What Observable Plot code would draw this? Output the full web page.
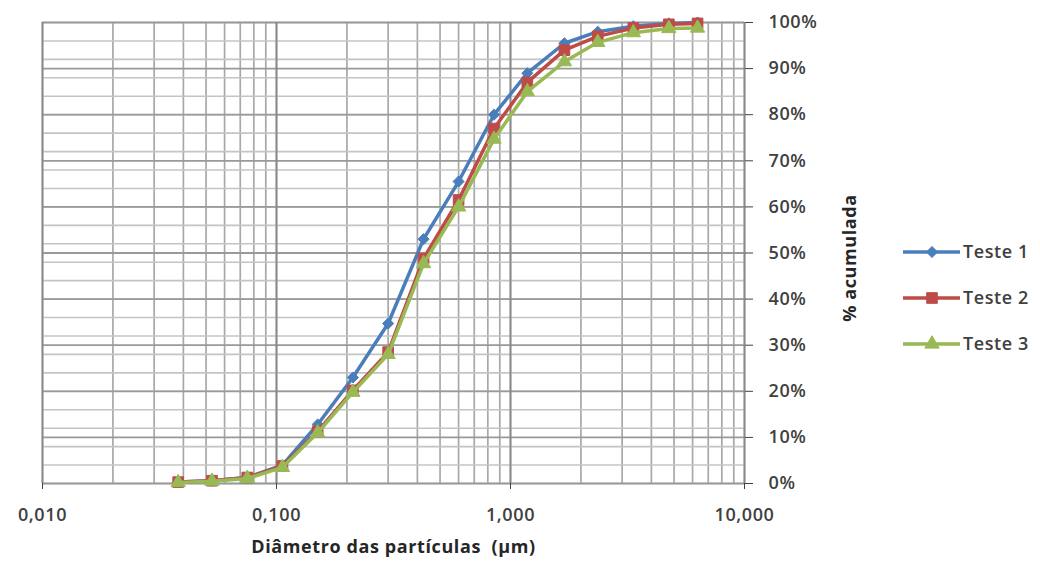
<!DOCTYPE html>
<html>
<head>
<meta charset="utf-8">
<script src="https://cdn.jsdelivr.net/npm/d3@7"></script>
<script src="https://cdn.jsdelivr.net/npm/@observablehq/plot@0.6"></script>
<style>
  body { margin: 0; background: #fff; }
  #wrap { position: relative; width: 1040px; height: 568px; }
  #wrap svg text { letter-spacing: 0.6px; }
  #legend { position: absolute; left: 0; top: 0; pointer-events: none; }
</style>
</head>
<body>
<div id="wrap"></div>
<script>
// Particle diameters (sieve sizes)
const diam = [0.038, 0.053, 0.075, 0.106, 0.15, 0.212, 0.3, 0.425, 0.6, 0.85, 1.18, 1.7, 2.36, 3.35, 4.75, 6.3];
// Cumulative % per test
const teste1 = [0.3, 0.6, 1.3, 4.0, 12.8, 23.0, 34.7, 53.0, 65.5, 80.0, 89.0, 95.5, 98.0, 99.2, 99.8, 100];
const teste2 = [0.3, 0.6, 1.3, 3.8, 11.3, 20.2, 28.5, 48.8, 61.5, 77.0, 87.0, 94.0, 97.0, 98.8, 99.6, 99.8];
const teste3 = [0.2, 0.5, 1.1, 3.5, 11.0, 19.8, 28.0, 47.7, 60.0, 74.7, 85.0, 91.5, 95.7, 97.8, 98.7, 98.8];

const seriesNames = ["Teste 1", "Teste 2", "Teste 3"];
const seriesValues = [teste1, teste2, teste3];
const seriesColors = ["#4a7ebb", "#be4b48", "#98b954"];
const seriesSymbols = ["diamond2", "square", "triangle"];
const seriesR = [5, 6, 5.3];

const xTicks = [0.01, 0.1, 1, 10];
const xTickLabels = ["0,010", "0,100", "1,000", "10,000"];
const yTicks = [0, 10, 20, 30, 40, 50, 60, 70, 80, 90, 100];
const yTickLabels = ["0%", "10%", "20%", "30%", "40%", "50%", "60%", "70%", "80%", "90%", "100%"];
const yMinor = [0, 4, 8, 12, 16, 20, 24, 28, 32, 36, 40, 44, 48, 52, 56, 60, 64, 68, 72, 76, 80, 84, 88, 92, 96, 100];
const xMinor = d3.scaleLog().domain([0.01, 10]).ticks();

const xTitle = "Diâmetro das partículas  (µm)";
const yTitle = "% acumulada";

const rows = seriesNames.flatMap((name, s) =>
  diam.map((d, i) => ({series: name, d, v: seriesValues[s][i]})));

const font = "'Open Sans', 'DejaVu Sans', sans-serif";
const fs = 18;

const marks = [
  Plot.ruleX(xMinor, {stroke: "#a8a8a8", strokeWidth: 1.7}),
  Plot.ruleY(yMinor, {stroke: "#c4c4c4", strokeWidth: 1.6}),
  Plot.ruleY(yTicks, {stroke: "#999999", strokeWidth: 1.8}),
  Plot.ruleX(xTicks, {stroke: "#888888", strokeWidth: 1.8}),
  Plot.axisX({ticks: xTicks, tickFormat: d => xTickLabels[xTicks.indexOf(d)], tickSize: 6, tickPadding: 19,
    label: null, fontSize: fs, fontWeight: 600, fill: "#404040"}),
  Plot.axisY({anchor: "right", ticks: yTicks, tickFormat: d => yTickLabels[yTicks.indexOf(d)], tickSize: 8, tickPadding: 16,
    label: null, fontSize: fs, fontWeight: 600, fill: "#404040"}),
  Plot.text([xTitle], {frameAnchor: "bottom", dy: 69, fontSize: fs, fontWeight: "bold", fill: "#262626"}),
  Plot.text([yTitle], {frameAnchor: "right", dx: 106, dy: 5, rotate: -90, textAnchor: "middle",
    fontSize: fs, fontWeight: "bold", fill: "#262626"})
];

seriesNames.forEach((name, s) => {
  const data = rows.filter(r => r.series === name);
  marks.push(Plot.line(data, {x: "d", y: "v", stroke: seriesColors[s], strokeWidth: 3.5}));
  marks.push(Plot.dot(data, {x: "d", y: "v", symbol: () => seriesSymbols[s], r: seriesR[s],
    fill: seriesColors[s], stroke: seriesColors[s], strokeWidth: 1}));
});

const chart = Plot.plot({
  width: 1040,
  height: 568,
  marginLeft: 42,
  marginRight: 296,
  marginTop: 22,
  marginBottom: 85,
  style: {fontFamily: font, background: "#fff", color: "#404040"},
  x: {type: "log", domain: [0.01, 10]},
  y: {domain: [0, 100]},
  symbol: {type: "identity"},
  marks
});
document.getElementById("wrap").appendChild(chart);

// Legend overlay
const leg = d3.select("#wrap").append("svg").attr("id", "legend")
  .attr("width", 1040).attr("height", 568);
const legTop = 252, legStep = 46, legX = 903;
seriesNames.forEach((name, s) => {
  const g = leg.append("g").attr("transform", `translate(${legX},${legTop + s * legStep})`);
  g.append("line").attr("x1", 0).attr("x2", 57).attr("y1", 0).attr("y2", 0)
    .attr("stroke", seriesColors[s]).attr("stroke-width", 3.5);
  const sym = {diamond2: d3.symbolDiamond2, square: d3.symbolSquare, triangle: d3.symbolTriangle}[seriesSymbols[s]];
  g.append("path").attr("transform", "translate(29,0)")
    .attr("d", d3.symbol(sym, Math.PI * seriesR[s] * seriesR[s])())
    .attr("fill", seriesColors[s]).attr("stroke", seriesColors[s]);
  g.append("text").attr("x", 60).attr("y", 0).attr("dy", "0.35em")
    .attr("font-family", font).attr("font-size", fs).attr("font-weight", 600)
    .attr("fill", "#404040").text(name);
});
</script>
</body>
</html>
